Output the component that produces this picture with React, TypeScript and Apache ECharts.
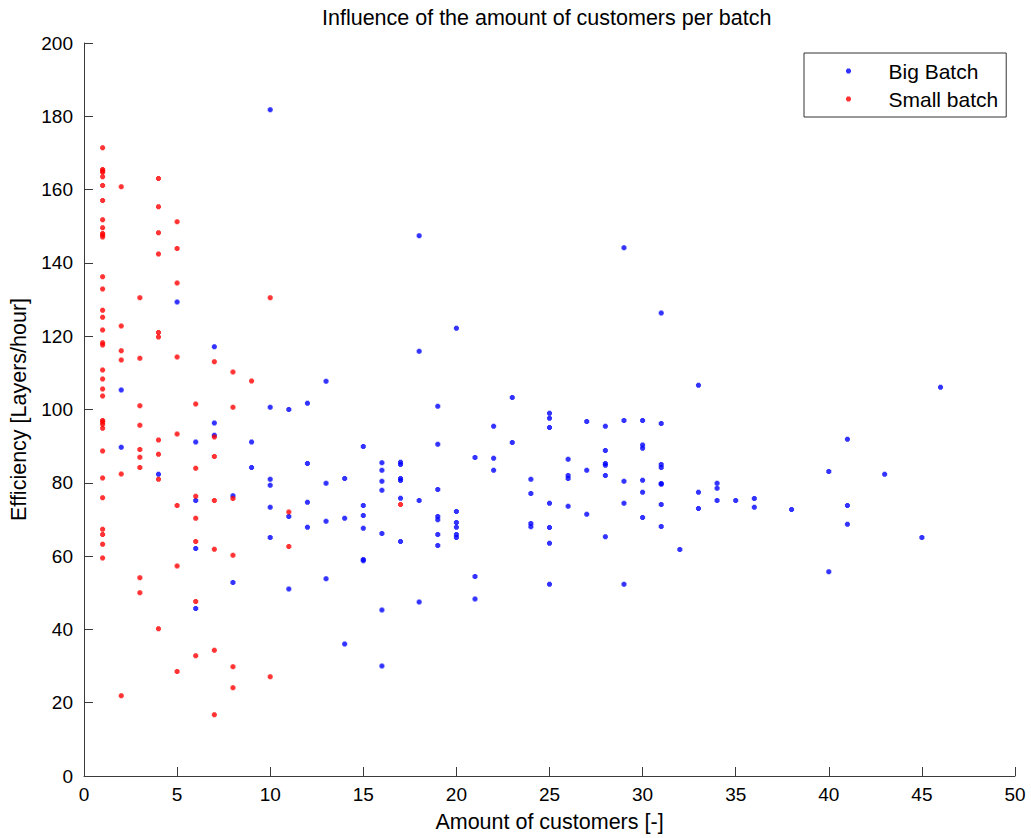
import React, { useEffect, useRef } from "react";
import * as echarts from "echarts";

// Efficiency readings grouped by the number of customers in the batch.
const bigBatch: [number, number[]][] = [
  [2, [105.3, 89.7]],
  [4, [82.3]],
  [5, [129.3]],
  [6, [91.1, 75.2, 62.1, 45.7]],
  [7, [117.1, 96.3, 93.0]],
  [8, [76.5, 52.8]],
  [9, [91.1, 84.2]],
  [10, [181.8, 100.6, 81.0, 79.3, 73.3, 65.1]],
  [11, [100.0, 70.8, 51.0]],
  [12, [101.7, 85.3, 74.7, 67.9]],
  [13, [107.7, 79.9, 69.5, 53.8]],
  [14, [81.2, 70.3, 36.0]],
  [15, [89.9, 73.8, 71.1, 67.6, 59.1, 58.7]],
  [16, [85.5, 83.4, 80.4, 78.0, 66.2, 45.3, 30.0]],
  [17, [85.6, 85.0, 81.2, 80.6, 75.8, 64.0]],
  [18, [147.4, 115.9, 75.2, 47.5]],
  [19, [100.9, 90.5, 78.2, 70.8, 69.9, 65.9, 62.9]],
  [20, [122.2, 72.2, 69.2, 67.9, 65.9, 65.1]],
  [21, [86.9, 54.4, 48.3]],
  [22, [95.4, 86.7, 83.4]],
  [23, [103.3, 91.0]],
  [24, [81.0, 77.1, 68.9, 68.0]],
  [25, [99.0, 97.6, 95.1, 74.4, 67.8, 63.5, 52.3]],
  [26, [86.4, 82.0, 81.2, 73.6]],
  [27, [96.7, 83.4, 71.4]],
  [28, [95.4, 88.8, 85.3, 84.8, 82.0, 65.3]],
  [29, [144.1, 97.0, 80.4, 74.4, 52.3]],
  [30, [97.0, 90.3, 89.4, 80.7, 77.4, 70.5]],
  [31, [126.3, 96.2, 85.0, 84.2, 79.8, 79.6, 74.1, 68.1]],
  [32, [61.8]],
  [33, [106.6, 77.4, 73.0]],
  [34, [79.9, 78.5, 75.2]],
  [35, [75.2]],
  [36, [75.7, 73.3]],
  [38, [72.7]],
  [40, [83.1, 55.7]],
  [41, [91.9, 73.8, 68.7]],
  [43, [82.3]],
  [45, [65.1]],
  [46, [106.1]],
];

const smallBatch: [number, number[]][] = [
  [1, [171.4, 165.5, 165.1, 164.7, 163.5, 161.1, 157.0, 151.8, 149.6, 148.0, 147.6, 147.1,
       136.2, 132.9, 127.1, 125.2, 121.7, 118.2, 117.6, 110.8, 108.3, 105.6, 103.7, 97.0,
       96.6, 96.0, 94.9, 88.7, 81.3, 75.9, 67.3, 65.9, 63.2, 59.5]],
  [2, [160.8, 122.8, 116.0, 113.5, 82.4, 21.9]],
  [3, [130.5, 114.0, 101.0, 95.7, 89.1, 87.0, 84.2, 54.1, 50.0]],
  [4, [163.0, 155.3, 148.2, 142.4, 121.0, 119.8, 91.7, 87.8, 81.0, 40.2]],
  [5, [151.2, 143.9, 134.5, 114.3, 93.3, 73.8, 57.3, 28.5]],
  [6, [101.5, 84.0, 76.3, 70.3, 64.0, 47.6, 32.8]],
  [7, [113.0, 92.5, 87.2, 75.2, 61.9, 34.3, 16.7]],
  [8, [110.2, 100.6, 75.7, 60.2, 29.8, 24.1]],
  [9, [107.8]],
  [10, [130.5, 27.1]],
  [11, [72.0, 62.6]],
  [17, [74.1]],
];

const xTicks = { min: 0, max: 50, interval: 5 };
const yTicks = { min: 0, max: 200, interval: 20 };

const toPoints = (groups: [number, number[]][]) =>
  groups.flatMap(([n, values]) => values.map((v) => [n, v]));

// Small pixel dot, like a rounded 5x5 marker.
const DOT = "path://M1,0H4V1H5V4H4V5H1V4H0V1H1Z";
const FONT = "'Liberation Sans', Arial, sans-serif";
const AXIS_COLOR = "#3a3a3a";

export default function App() {
  const ref = useRef<HTMLDivElement>(null);

  useEffect(() => {
    if (!ref.current) return;
    const chart = echarts.init(ref.current, undefined, { renderer: "svg" });
    const axisCommon = {
      axisLine: { show: true, lineStyle: { color: AXIS_COLOR, width: 1 } },
      axisTick: { show: true, inside: true, length: 9, lineStyle: { color: AXIS_COLOR } },
      splitLine: { show: false },
      nameTextStyle: { color: "#000", fontSize: 21.5, fontFamily: FONT },
    };
    chart.setOption({
      animation: false,
      backgroundColor: "#fff",
      textStyle: { fontFamily: FONT },
      title: {
        text: "Influence of the amount of customers per batch",
        left: 322,
        top: 7,
        textStyle: { fontSize: 21.5, fontWeight: "normal", color: "#000", fontFamily: FONT },
        padding: 0,
        itemGap: 0,
      },
      grid: { left: 83, right: 16, top: 43, bottom: 62, containLabel: false },
      legend: {
        orient: "vertical",
        left: 804,
        top: 53,
        padding: [7, 8, 7, 42],
        itemWidth: 70,
        itemHeight: 5,
        itemGap: 6,
        borderColor: "#333",
        borderWidth: 1,
        backgroundColor: "#fff",
        textStyle: { fontSize: 21, color: "#000", fontFamily: FONT, lineHeight: 22, padding: 0 },
        data: ["Big Batch", "Small batch"],
      },
      xAxis: {
        type: "value",
        ...xTicks,
        ...axisCommon,
        name: "Amount of customers [-]",
        nameLocation: "middle",
        nameGap: 35,
        axisLabel: { color: "#000", fontSize: 19, margin: 9, fontFamily: FONT },
      },
      yAxis: {
        type: "value",
        ...yTicks,
        ...axisCommon,
        name: "Efficiency [Layers/hour]",
        nameLocation: "middle",
        nameGap: 54,
        axisLabel: { color: "#000", fontSize: 19, margin: 11, fontFamily: FONT },
      },
      series: [
        {
          name: "Big Batch",
          type: "scatter",
          symbol: DOT,
          symbolSize: 5,
          itemStyle: { color: "#0000ff" },
          data: toPoints(bigBatch),
        },
        {
          name: "Small batch",
          type: "scatter",
          symbol: DOT,
          symbolSize: 5,
          itemStyle: { color: "#ff0000" },
          data: toPoints(smallBatch),
        },
      ],
    });
    return () => chart.dispose();
  }, []);

  return (
    <div
      ref={ref}
      style={{ position: "fixed", left: 0, top: 0, width: 1031, height: 838, background: "#fff" }}
    />
  );
}
